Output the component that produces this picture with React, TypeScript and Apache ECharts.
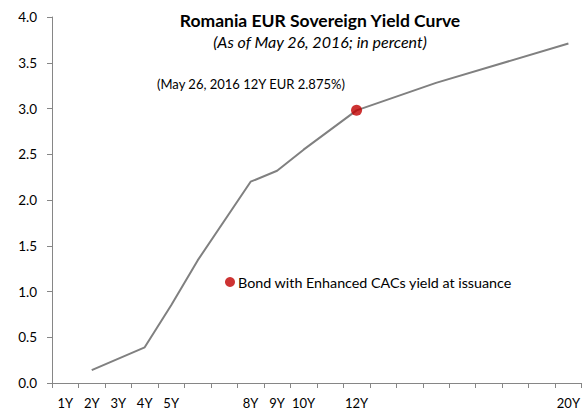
import React, { useEffect, useRef } from "react";
import * as echarts from "echarts";

const tenors = ["1Y","2Y","3Y","4Y","5Y","6Y","7Y","8Y","9Y","10Y","11Y","12Y","13Y","14Y","15Y","16Y","17Y","18Y","19Y","20Y"];
const shownLabels = ["1Y","2Y","3Y","4Y","5Y","8Y","9Y","10Y","12Y","20Y"];
const curveYield: (number | null)[] = [null,0.14,null,0.39,0.85,1.34,null,2.20,2.32,2.55,null,2.98,null,null,3.28,null,null,null,null,3.71];
const bondTenor = "12Y";
const bondYield = 2.98;
const titleText = "Romania EUR Sovereign Yield Curve";
const subtitleText = "(As of May 26, 2016; in percent)";
const noteText = "(May 26, 2016 12Y EUR 2.875%)";
const bondName = "Bond with Enhanced CACs yield at issuance";

const FONT = "Lato, 'Liberation Sans', sans-serif";

export default function App() {
  const ref = useRef<HTMLDivElement>(null);
  useEffect(() => {
    if (!ref.current) return;
    const chart = echarts.init(ref.current, null, { renderer: "svg" });
    chart.setOption({
      animation: false,
      backgroundColor: "#ffffff",
      textStyle: { fontFamily: FONT },
      title: {
        text: titleText,
        subtext: subtitleText,
        left: 315,
        textAlign: "center",
        top: 6,
        itemGap: 4,
        textStyle: { fontFamily: FONT, fontSize: 17.5, fontWeight: "bold", color: "#000" },
        subtextStyle: { fontFamily: FONT, fontSize: 16, fontStyle: "italic", color: "#000" },
      },
      legend: {
        data: [{ name: bondName, icon: "circle" }],
        left: 220,
        top: 270,
        itemWidth: 10,
        itemHeight: 10,
        itemGap: 4,
        textStyle: { fontFamily: FONT, fontSize: 14.3, color: "#000", padding: [0, 0, 0, -2] },
      },
      grid: { left: 52, right: 1, top: 17, bottom: 29, containLabel: false },
      xAxis: {
        type: "category",
        data: tenors,
        boundaryGap: true,
        axisLine: { lineStyle: { color: "#868686", width: 1 } },
        axisTick: { show: true, interval: 0, alignWithLabel: false, length: 5, lineStyle: { color: "#868686" } },
        axisLabel: {
          interval: 0,
          margin: 13,
          fontFamily: FONT,
          fontSize: 13,
          color: "#000",
          formatter: (v: string) => (shownLabels.includes(v) ? v : ""),
        },
        splitLine: { show: false },
      },
      yAxis: {
        type: "value",
        min: 0,
        max: 4,
        interval: 0.5,
        axisLine: { show: true, lineStyle: { color: "#868686", width: 1 } },
        axisTick: { show: true, length: 5, lineStyle: { color: "#868686" } },
        axisLabel: {
          margin: 15,
          fontFamily: FONT,
          fontSize: 13.5,
          color: "#000",
          formatter: (v: number) => v.toFixed(1),
        },
        splitLine: { show: false },
      },
      graphic: [
        {
          type: "text",
          left: 157,
          top: 77,
          style: { text: noteText, fontFamily: FONT, fontSize: 13, fill: "#000" },
        },
      ],
      series: [
        {
          name: "Curve",
          type: "line",
          data: curveYield,
          connectNulls: true,
          showSymbol: false,
          symbol: "none",
          lineStyle: { color: "#808080", width: 2 },
          z: 2,
        },
        {
          name: bondName,
          type: "scatter",
          data: [[bondTenor, bondYield]],
          symbol: "circle",
          symbolSize: 11,
          itemStyle: { color: "#c00000" },
          z: 3,
        },
      ],
    });
    return () => chart.dispose();
  }, []);
  return <div ref={ref} style={{ width: 583, height: 412, position: "absolute", left: 0, top: 0 }} />;
}
